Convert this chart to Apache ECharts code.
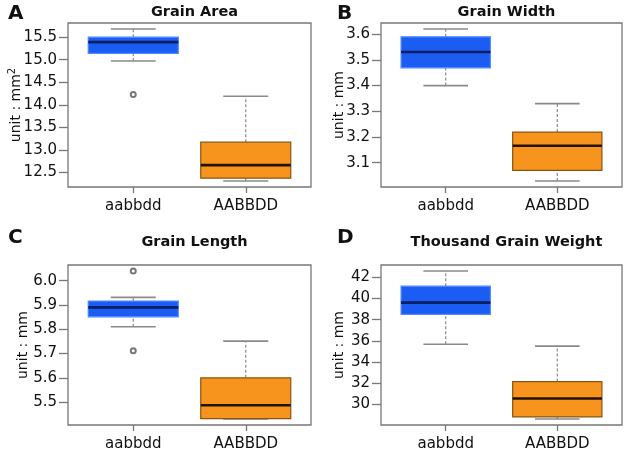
<!DOCTYPE html>
<html>
<head>
<meta charset="utf-8">
<script src="https://cdn.jsdelivr.net/npm/echarts@6/dist/echarts.min.js"></script>
<style>
html,body{margin:0;padding:0;background:#fff;}
#chart{width:625px;height:452px;}
</style>
</head>
<body>
<div id="chart"></div>
<script>
// ---- data ----
const categories = ['aabbdd', 'AABBDD'];
const panelLetters = ['A', 'B', 'C', 'D'];
const panelTitles = ['Grain Area', 'Grain Width', 'Grain Length', 'Thousand Grain Weight'];
const yNames = ['unit : mm{sup|2}', 'unit : mm', 'unit : mm', 'unit : mm'];

// [lower whisker, Q1, median, Q3, upper whisker] per category
const areaStats   = [[14.97, 15.14, 15.39, 15.50, 15.68], [12.31, 12.37, 12.66, 13.17, 14.19]];
const widthStats  = [[3.400, 3.469, 3.531, 3.590, 3.620], [3.029, 3.070, 3.166, 3.219, 3.330]];
const lengthStats = [[5.810, 5.851, 5.890, 5.916, 5.931], [5.430, 5.432, 5.487, 5.600, 5.751]];
const weightStats = [[35.67, 38.50, 39.61, 41.17, 42.61], [28.60, 28.80, 30.55, 32.15, 35.50]];

// outliers: [category index, value]
const areaOutliers   = [[0, 14.23]];
const widthOutliers  = [];
const lengthOutliers = [[0, 6.04], [0, 5.711]];
const weightOutliers = [];

// tick labels
const areaTicks   = [12.5, 13.0, 13.5, 14.0, 14.5, 15.0, 15.5];
const widthTicks  = [3.1, 3.2, 3.3, 3.4, 3.5, 3.6];
const lengthTicks = [5.5, 5.6, 5.7, 5.8, 5.9, 6.0];
const weightTicks = [30, 32, 34, 36, 38, 40, 42];

const allStats = [areaStats, widthStats, lengthStats, weightStats];
const allOutliers = [areaOutliers, widthOutliers, lengthOutliers, weightOutliers];
const allTicks = [areaTicks, widthTicks, lengthTicks, weightTicks];
const tickDecimals = [1, 1, 1, 0];

// ---- layout / style ----
const FONT = 'DejaVu Sans, Liberation Sans, Arial, sans-serif';
const TXT = '#111';
const grids = [
  {left: 68,  top: 23,  width: 243, height: 164},
  {left: 381, top: 23,  width: 241, height: 164},
  {left: 68,  top: 265, width: 243, height: 164},
  {left: 381, top: 265, width: 241, height: 164}
];
const nameGaps = [42, 35, 38, 35];
const letterPos = [[3, -1], [332, -1], [3, 223], [332, 223]];
const titleTop = [0, 0, 230, 230];
const boxColors = [
  {fill: '#1b5cf3', stroke: '#4d88ff', median: '#0a1d60'},
  {fill: '#f7941d', stroke: '#8a5513', median: '#231200'}
];

function yRange(stats, outliers) {
  const vals = [];
  stats.forEach(s => vals.push(...s));
  outliers.forEach(o => vals.push(o[1]));
  const lo = Math.min(...vals), hi = Math.max(...vals);
  const pad = (hi - lo) * 0.04;
  return [lo - pad, hi + pad];
}

function renderBox(params, api) {
  const x = api.value(0);
  const idx = Math.round(x) - 1;
  const c = boxColors[idx];
  const lo = api.coord([x, api.value(1)]);
  const q1 = api.coord([x, api.value(2)]);
  const md = api.coord([x, api.value(3)]);
  const q3 = api.coord([x, api.value(4)]);
  const hi = api.coord([x, api.value(5)]);
  const w = api.size([0.8, 0])[0];
  const cx = lo[0];
  const cap = w / 4;
  const whisk = {stroke: '#8a8a8a', lineWidth: 1.2, lineDash: [3, 2]};
  const capS = {stroke: '#8a8a8a', lineWidth: 1.6};
  return {
    type: 'group',
    children: [
      {type: 'line', shape: {x1: cx, y1: q3[1], x2: cx, y2: hi[1]}, style: whisk},
      {type: 'line', shape: {x1: cx, y1: lo[1], x2: cx, y2: q1[1]}, style: whisk},
      {type: 'line', shape: {x1: cx - cap, y1: hi[1], x2: cx + cap, y2: hi[1]}, style: capS},
      {type: 'line', shape: {x1: cx - cap, y1: lo[1], x2: cx + cap, y2: lo[1]}, style: capS},
      {type: 'rect', shape: {x: cx - w / 2, y: q3[1], width: w, height: q1[1] - q3[1]},
        style: {fill: c.fill, stroke: c.stroke, lineWidth: 1.2}},
      {type: 'line', shape: {x1: cx - w / 2, y1: md[1], x2: cx + w / 2, y2: md[1]},
        style: {stroke: c.median, lineWidth: 2.6}}
    ]
  };
}

const option = {
  backgroundColor: '#fff',
  animation: false,
  textStyle: {fontFamily: FONT, color: TXT},
  title: [],
  grid: [],
  xAxis: [],
  yAxis: [],
  series: []
};

for (let p = 0; p < 4; p++) {
  const g = grids[p];
  option.grid.push(Object.assign({show: true, borderColor: '#777', borderWidth: 1.3, backgroundColor: 'transparent'}, g));
  option.title.push({
    text: panelTitles[p], left: g.left + g.width / 2, top: titleTop[p], textAlign: 'center',
    textStyle: {fontFamily: FONT, fontSize: 14.5, fontWeight: 'bold', color: TXT}
  });
  option.title.push({
    text: panelLetters[p], left: letterPos[p][0], top: letterPos[p][1],
    textStyle: {fontFamily: FONT, fontSize: 20, fontWeight: 'bold', color: TXT}
  });
  const cats = [1, 2];
  option.xAxis.push({
    type: 'value', gridIndex: p, min: 0.42, max: 2.58,
    axisLine: {show: false},
    splitLine: {show: false},
    axisTick: {show: true, customValues: cats, length: 6, lineStyle: {color: '#777', width: 1.3}},
    axisLabel: {customValues: cats, margin: 12, fontSize: 15, fontFamily: FONT, color: TXT,
      formatter: v => categories[Math.round(v) - 1]}
  });
  const r = yRange(allStats[p], allOutliers[p]);
  const d = tickDecimals[p];
  option.yAxis.push({
    type: 'value', gridIndex: p, min: r[0], max: r[1],
    name: yNames[p], nameLocation: 'middle', nameGap: nameGaps[p], nameMoveOverlap: false,
    nameTextStyle: {fontSize: 14, fontFamily: FONT, color: TXT,
      rich: {sup: {fontSize: 10, fontFamily: FONT, color: TXT, padding: [0, 0, 9, 0]}}},
    axisLine: {show: false},
    splitLine: {show: false},
    axisTick: {show: true, customValues: allTicks[p], length: 9, lineStyle: {color: '#777', width: 1.3}},
    axisLabel: {customValues: allTicks[p], margin: 11, fontSize: 15, fontFamily: FONT, color: TXT,
      formatter: v => v.toFixed(d)}
  });
  option.series.push({
    type: 'custom', xAxisIndex: p, yAxisIndex: p,
    renderItem: renderBox,
    encode: {x: 0, y: [1, 2, 3, 4, 5]},
    data: allStats[p].map((s, i) => [i + 1].concat(s)),
    z: 2
  });
  option.series.push({
    type: 'scatter', xAxisIndex: p, yAxisIndex: p,
    symbol: 'emptyCircle', symbolSize: 5,
    itemStyle: {color: '#555', borderWidth: 1},
    data: allOutliers[p].map(o => [o[0] + 1, o[1]]),
    z: 3
  });
}

const chart = echarts.init(document.getElementById('chart'), null, {renderer: 'canvas'});
chart.setOption(option);
</script>
</body>
</html>
